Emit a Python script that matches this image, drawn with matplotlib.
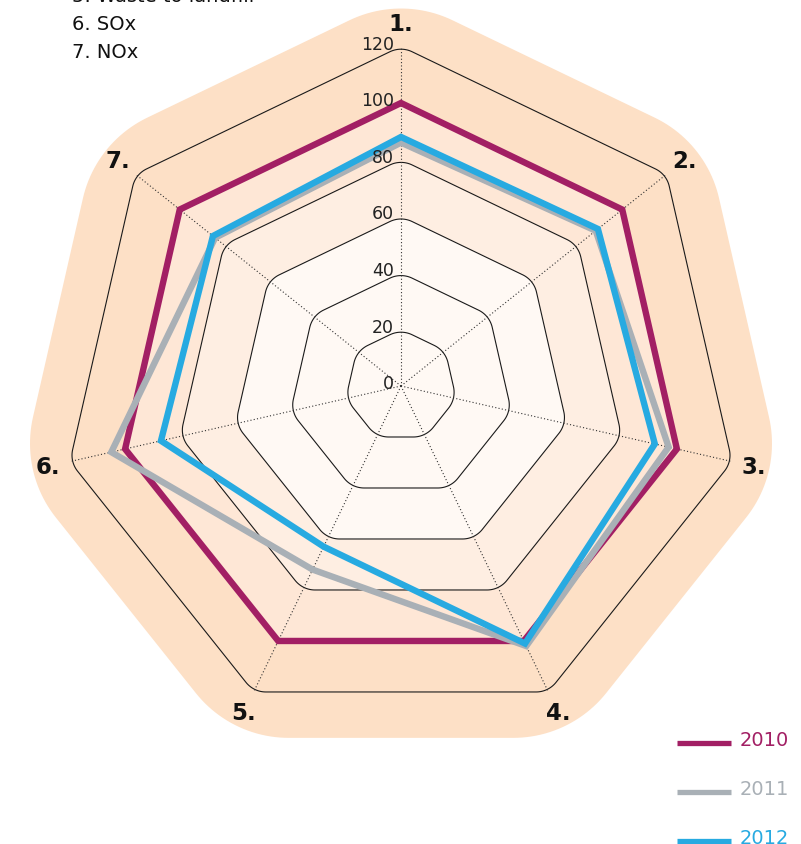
import numpy as np
import matplotlib
matplotlib.use("Agg")
import matplotlib.pyplot as plt
from matplotlib.patches import Polygon

# ---------------- data ----------------
categories = ["1.", "2.", "3.", "4.", "5.", "6.", "7."]
series_names = ["2010", "2011", "2012"]
values_2010 = [100, 100, 100, 100, 100, 100, 100]
values_2011 = [86, 88, 97, 102, 72, 105, 84]
values_2012 = [88, 89, 92, 101, 63, 87, 85]
ring_levels = [20, 40, 60, 80, 100, 120]
tick_values = [0, 20, 40, 60, 80, 100, 120]
tick_labels = ["0", "20", "40", "60", "80", "100", "120"]
side_notes = ["5. Waste to landfill", "6. SOx", "7. NOx"]

series_colors = ["#A21F64", "#A9B0B6", "#27AAE1"]
band_levels = [138, 100, 80, 60]
band_colors = ["#FDE0C6", "#FEE7D6", "#FEEEE2", "#FFF9F4"]

plt.rcParams['font.family'] = ['DejaVu Sans']

W, H = 801, 845
S = 2.83            # pixels per value unit
CX, CY = 401, 387   # centre in pixels

fig = plt.figure(figsize=(W / 100, H / 100), dpi=100)
ax = fig.add_axes([0, 0, 1, 1])
ax.set_xlim(-CX / S, (W - CX) / S)
ax.set_ylim(-(H - CY) / S, CY / S)
ax.axis('off')

n = len(categories)
angles = np.arange(n) * 2 * np.pi / n   # clockwise from top


def unit(a):
    return np.array([np.sin(a), np.cos(a)])


def rounded_poly(R, rc, steps=24):
    half = np.pi / n
    rc = min(rc, 0.85 * R * np.cos(half))
    dc = R - rc / np.cos(half)
    pts = []
    for a in angles:
        c = dc * unit(a)
        for phi in np.linspace(a - half, a + half, steps):
            pts.append(c + rc * unit(phi))
    return np.array(pts)


RING_RC = 9.0

# background bands
for lev, col in zip(band_levels, band_colors):
    rc = 42 if lev == 138 else RING_RC
    ax.add_patch(Polygon(rounded_poly(lev, rc), closed=True,
                         facecolor=col, edgecolor='none', zorder=1))

# ring lines
for lev in ring_levels:
    ax.add_patch(Polygon(rounded_poly(lev, RING_RC), closed=True, fill=False,
                         edgecolor='#1a1a1a', linewidth=0.8, zorder=2))

# dotted spokes
for a in angles:
    end = 120 * unit(a)
    ax.plot([0, end[0]], [0, end[1]], color='#333333', lw=0.8,
            linestyle=(0, (1, 2)), zorder=2)

# data series
for vals, col in zip([values_2010, values_2011, values_2012], series_colors):
    pts = np.array([v * unit(a) for v, a in zip(vals, angles)])
    ax.add_patch(Polygon(pts, closed=True, fill=False, edgecolor=col,
                         linewidth=4.6, joinstyle='miter', zorder=4))

# radial tick labels
for v, lab in zip(tick_values, tick_labels):
    ax.text(-2.6, v + 1.0, lab, ha='right', va='center', fontsize=12.5,
            color='#222222', zorder=5)

# category labels
for a, lab in zip(angles, categories):
    p = 128 * unit(a)
    ax.text(p[0], p[1], lab, ha='center', va='center', fontsize=16.5,
            fontweight='bold', color='#111111', zorder=5)


def fx(x):
    return x / W


def fy(y):
    return 1 - y / H


# side notes (top-left), baselines in pixels
for i, txt in enumerate(side_notes):
    ax.text(fx(72), fy(2 + 28 * i), txt, transform=ax.transAxes,
            ha='left', va='baseline', fontsize=14, color='#111111', zorder=6)

# legend
for i, (name, col) in enumerate(zip(series_names, series_colors)):
    yl = 744 + 49 * i
    ax.plot([fx(677), fx(731)], [fy(yl), fy(yl)], transform=ax.transAxes,
            color=col, lw=3.8, solid_capstyle='butt', clip_on=False, zorder=6)
    ax.text(fx(740), fy(yl + 2), name, transform=ax.transAxes, ha='left',
            va='baseline', fontsize=14, color=col, zorder=6)

fig.savefig("out.png", dpi=100)
